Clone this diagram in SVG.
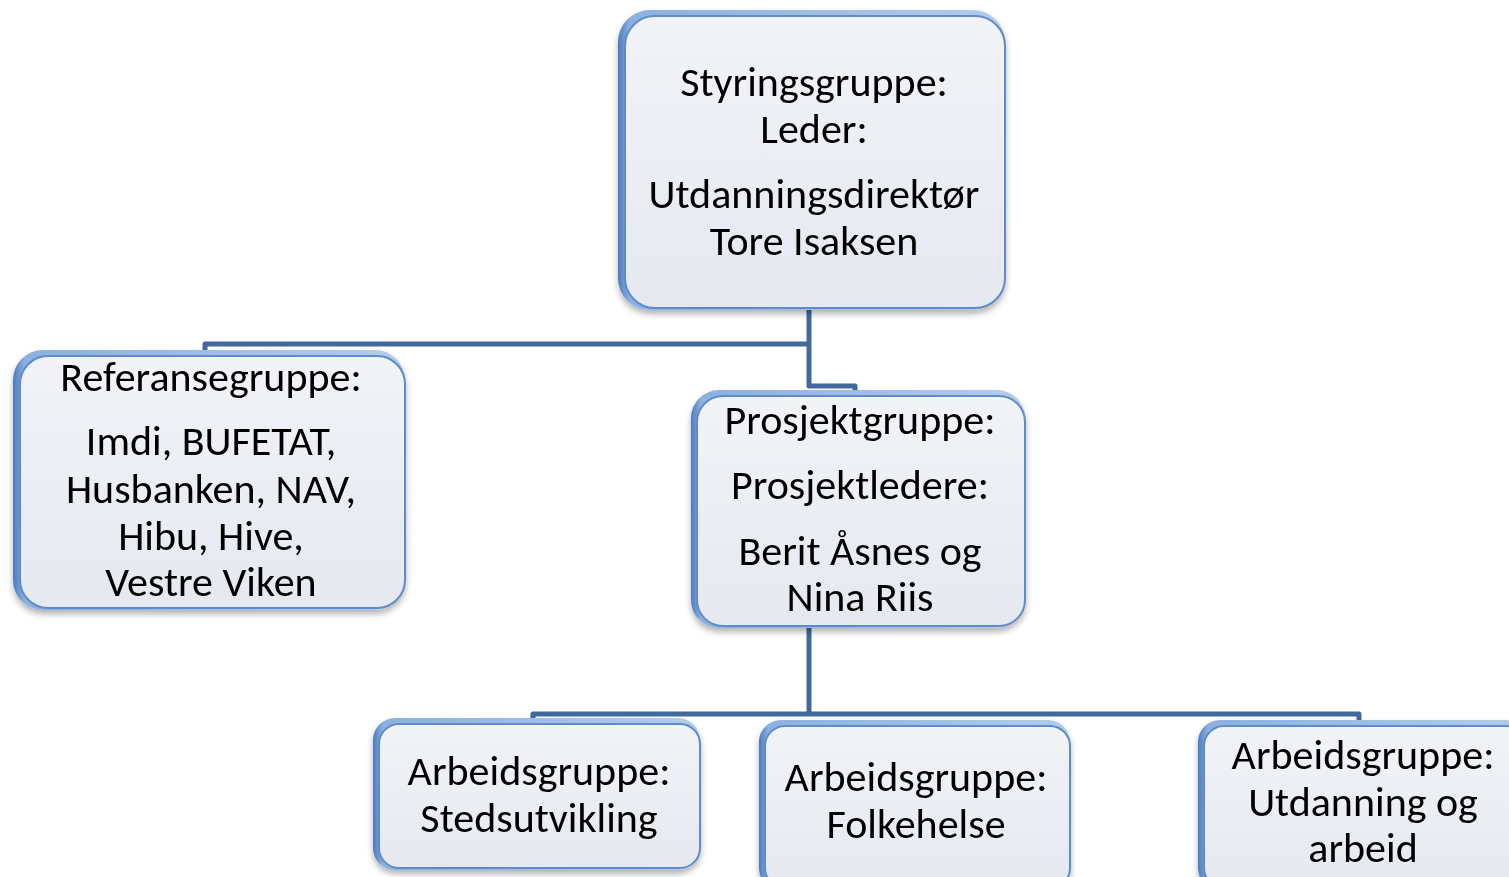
<svg xmlns="http://www.w3.org/2000/svg" width="1509" height="877" viewBox="0 0 1509 877">
<style>
.face{fill:url(#faceGrad);stroke:#5e8cc8;stroke-width:2}
.bevel{fill:url(#bevelGrad)}
.conn{fill:none;stroke:#41699d;stroke-width:5;stroke-linejoin:round}
text{font-family:Carlito,Lato,"Liberation Sans",sans-serif;font-size:42px;fill:#000;text-anchor:middle}
</style>
<defs>
<linearGradient id="faceGrad" x1="0" y1="0" x2="0" y2="1">
<stop offset="0" stop-color="#f1f3f7"/>
<stop offset="1" stop-color="#e5e8ef"/>
</linearGradient>
<linearGradient id="bevelGrad" x1="0" y1="0" x2="1" y2="0">
<stop offset="0" stop-color="#4a7bc0"/>
<stop offset="0.03" stop-color="#8cb0e0"/>
<stop offset="1" stop-color="#b3ccec"/>
</linearGradient>
<filter id="sh" x="-10%" y="-10%" width="120%" height="125%">
<feDropShadow dx="0" dy="4" stdDeviation="3" flood-color="#000" flood-opacity="0.3"/>
</filter>
</defs>
<g id="connectors">
<path class="conn" d="M809,308 V386 H855 V392"/>
<path class="conn" d="M809,344 H205 V352"/>
<path class="conn" d="M809,626 V714"/>
<path class="conn" d="M533,720 V714 H1359 V722"/>
</g>
<g id="styringsgruppe" filter="url(#sh)">
<rect class="bevel" x="618" y="10" width="387" height="300" rx="32"/>
<rect class="face" x="625" y="16" width="380" height="292" rx="30"/>
<text x="814" y="96">Styringsgruppe:</text>
<text x="814" y="143">Leder:</text>
<text x="814" y="208">Utdanningsdirektør</text>
<text x="814" y="255">Tore Isaksen</text>
</g>
<g id="referansegruppe" filter="url(#sh)">
<rect class="bevel" x="13" y="350" width="392" height="260" rx="30"/>
<rect class="face" x="20" y="356" width="385" height="252" rx="28"/>
<text x="211" y="391">Referansegruppe:</text>
<text x="211" y="455">Imdi, BUFETAT,</text>
<text x="211" y="503">Husbanken, NAV,</text>
<text x="211" y="550">Hibu, Hive,</text>
<text x="211" y="596">Vestre Viken</text>
</g>
<g id="prosjektgruppe" filter="url(#sh)">
<rect class="bevel" x="691" y="390" width="334" height="238" rx="28"/>
<rect class="face" x="697" y="396" width="328" height="230" rx="26"/>
<text x="860" y="434">Prosjektgruppe:</text>
<text x="860" y="499">Prosjektledere:</text>
<text x="860" y="565">Berit Åsnes og</text>
<text x="860" y="611">Nina Riis</text>
</g>
<g id="stedsutvikling" filter="url(#sh)">
<rect class="bevel" x="373" y="718" width="327" height="152" rx="22"/>
<rect class="face" x="379" y="724" width="321" height="144" rx="20"/>
<text x="539" y="785">Arbeidsgruppe:</text>
<text x="539" y="832">Stedsutvikling</text>
</g>
<g id="folkehelse" filter="url(#sh)">
<rect class="bevel" x="759" y="720" width="311" height="170" rx="22"/>
<rect class="face" x="765" y="726" width="305" height="162" rx="20"/>
<text x="916" y="791">Arbeidsgruppe:</text>
<text x="916" y="838">Folkehelse</text>
</g>
<g id="utdanning" filter="url(#sh)">
<rect class="bevel" x="1198" y="720" width="329" height="170" rx="22"/>
<rect class="face" x="1204" y="726" width="323" height="162" rx="20"/>
<text x="1363" y="769">Arbeidsgruppe:</text>
<text x="1363" y="816">Utdanning og</text>
<text x="1363" y="862">arbeid</text>
</g>
</svg>
